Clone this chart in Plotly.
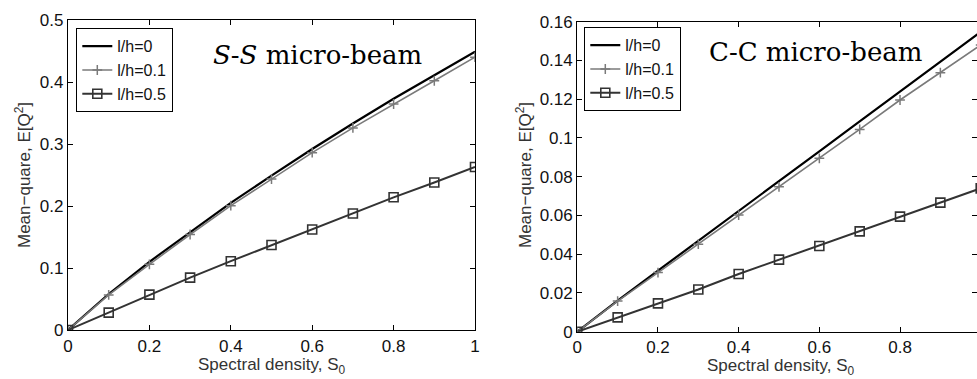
import plotly.graph_objects as go

s0 = [0.0, 0.1, 0.2, 0.3, 0.4, 0.5, 0.6, 0.7, 0.8, 0.9, 1.0]

# S-S micro-beam
ss_lh0 = [0.0, 0.058, 0.110, 0.158, 0.205, 0.249, 0.292, 0.333, 0.373, 0.411, 0.449]
ss_lh01 = [0.0, 0.0565, 0.106, 0.154, 0.2005, 0.2435, 0.286, 0.326, 0.3645, 0.402, 0.440]
ss_lh05 = [0.0, 0.028, 0.057, 0.0844, 0.111, 0.137, 0.162, 0.188, 0.214, 0.238, 0.263]

# C-C micro-beam
cc_lh0 = [0.0, 0.0160, 0.0315, 0.0468, 0.0624, 0.0777, 0.0931, 0.1085, 0.1239, 0.1393, 0.1547]
cc_lh01 = [0.0, 0.0158, 0.0305, 0.0452, 0.0602, 0.0748, 0.0895, 0.1044, 0.1196, 0.1337, 0.148]
cc_lh05 = [0.0, 0.0074, 0.0146, 0.0218, 0.0298, 0.0372, 0.0442, 0.0518, 0.0594, 0.0666, 0.074]

series_names = ["l/h=0", "l/h=0.1", "l/h=0.5"]
x_ticks = [0, 0.2, 0.4, 0.6, 0.8, 1]
x_ticktext = ["0", "0.2", "0.4", "0.6", "0.8", "1"]
ss_yticks = [0, 0.1, 0.2, 0.3, 0.4, 0.5]
ss_yticktext = ["0", "0.1", "0.2", "0.3", "0.4", "0.5"]
cc_yticks = [0, 0.02, 0.04, 0.06, 0.08, 0.10, 0.12, 0.14, 0.16]
cc_yticktext = ["0", "0.02", "0.04", "0.06", "0.08", "0.1", "0.12", "0.14", "0.16"]

W, H = 977, 379
FONT = "Liberation Sans, Arial, sans-serif"

fig = go.Figure()

styles = [
    dict(mode="lines", line=dict(color="#000000", width=2.2)),
    dict(mode="lines+markers", line=dict(color="#7a7a7a", width=1.6),
         marker=dict(symbol="cross-thin", size=7, line=dict(color="#7a7a7a", width=1.5))),
    dict(mode="lines+markers", line=dict(color="#333333", width=2),
         marker=dict(symbol="square-open", size=9, color="#333333", line=dict(color="#333333", width=1.6))),
]

for vals, name, st in zip([ss_lh0, ss_lh01, ss_lh05], series_names, styles):
    fig.add_trace(go.Scatter(x=s0, y=vals, name=name, xaxis="x", yaxis="y",
                             legend="legend", cliponaxis=True, **st))
for vals, name, st in zip([cc_lh0, cc_lh01, cc_lh05], series_names, styles):
    fig.add_trace(go.Scatter(x=s0, y=vals, name=name, xaxis="x2", yaxis="y2",
                             legend="legend2", cliponaxis=True, **st))

def px_x(p):
    return p / W

def px_y(p):
    return 1 - p / H

axis_common = dict(showgrid=False, zeroline=False, showline=True, linecolor="#000000",
                   linewidth=1.3, mirror="ticks", ticks="inside", ticklen=5,
                   tickcolor="#000000", automargin=False,
                   tickfont=dict(family=FONT, size=17, color="#111111"))

x2_end = (977 - 577.3) / 403.4

fig.update_layout(
    template="none",
    width=W, height=H, autosize=False,
    margin=dict(l=0, r=0, t=0, b=0, pad=0),
    paper_bgcolor="white", plot_bgcolor="white",
    xaxis=dict(domain=[px_x(68), px_x(475)], range=[0, 1], tickvals=x_ticks,
               ticktext=x_ticktext, anchor="y", **axis_common),
    yaxis=dict(domain=[px_y(330), px_y(20)], range=[0, 0.5], tickvals=ss_yticks,
               ticktext=ss_yticktext, anchor="x", **axis_common),
    xaxis2=dict(domain=[px_x(577.3), 1.0], range=[0, x2_end], tickvals=x_ticks,
                ticktext=x_ticktext, anchor="y2", **axis_common),
    yaxis2=dict(domain=[px_y(331.7), px_y(21.7)], range=[0, 0.16], tickvals=cc_yticks,
                ticktext=cc_yticktext, anchor="x2", **axis_common),
    legend=dict(x=px_x(76), y=px_y(28), xanchor="left", yanchor="top",
                bgcolor="white", bordercolor="#000000", borderwidth=1.3,
                font=dict(family=FONT, size=16, color="#111111"), tracegroupgap=0),
    legend2=dict(x=px_x(584), y=px_y(27), xanchor="left", yanchor="top",
                 bgcolor="white", bordercolor="#000000", borderwidth=1.3,
                 font=dict(family=FONT, size=16, color="#111111"), tracegroupgap=0),
    showlegend=True,
)

ann = []
title_font = dict(family="DejaVu Serif, serif", size=26, color="#000000")
ann.append(dict(text="<i>S</i>-<i>S</i> micro-beam", x=px_x(317.5), y=px_y(55), xref="paper", yref="paper",
                xanchor="center", yanchor="middle", showarrow=False, font=title_font))
ann.append(dict(text="C-C micro-beam", x=px_x(815), y=px_y(52), xref="paper", yref="paper",
                xanchor="center", yanchor="middle", showarrow=False, font=title_font))
lab_font = dict(family=FONT, size=17, color="#333333")
ann.append(dict(text="Spectral density, S<sub>0</sub>", x=px_x(271), y=px_y(366), xref="paper", yref="paper",
                xanchor="center", yanchor="middle", showarrow=False, font=lab_font))
ann.append(dict(text="Spectral density, S<sub>0</sub>", x=px_x(780), y=px_y(367), xref="paper", yref="paper",
                xanchor="center", yanchor="middle", showarrow=False, font=lab_font))
ann.append(dict(text="Mean\u2212quare, E[Q<sup>2</sup>]", x=px_x(23), y=px_y(175), xref="paper", yref="paper",
                xanchor="center", yanchor="middle", showarrow=False, textangle=-90, font=lab_font))
ann.append(dict(text="Mean\u2212quare, E[Q<sup>2</sup>]", x=px_x(524), y=px_y(175), xref="paper", yref="paper",
                xanchor="center", yanchor="middle", showarrow=False, textangle=-90, font=lab_font))
fig.update_layout(annotations=ann)

fig.write_html("out.html", config={"displayModeBar": False},
               post_script="document.body.style.margin='0';document.body.style.overflow='hidden';")
